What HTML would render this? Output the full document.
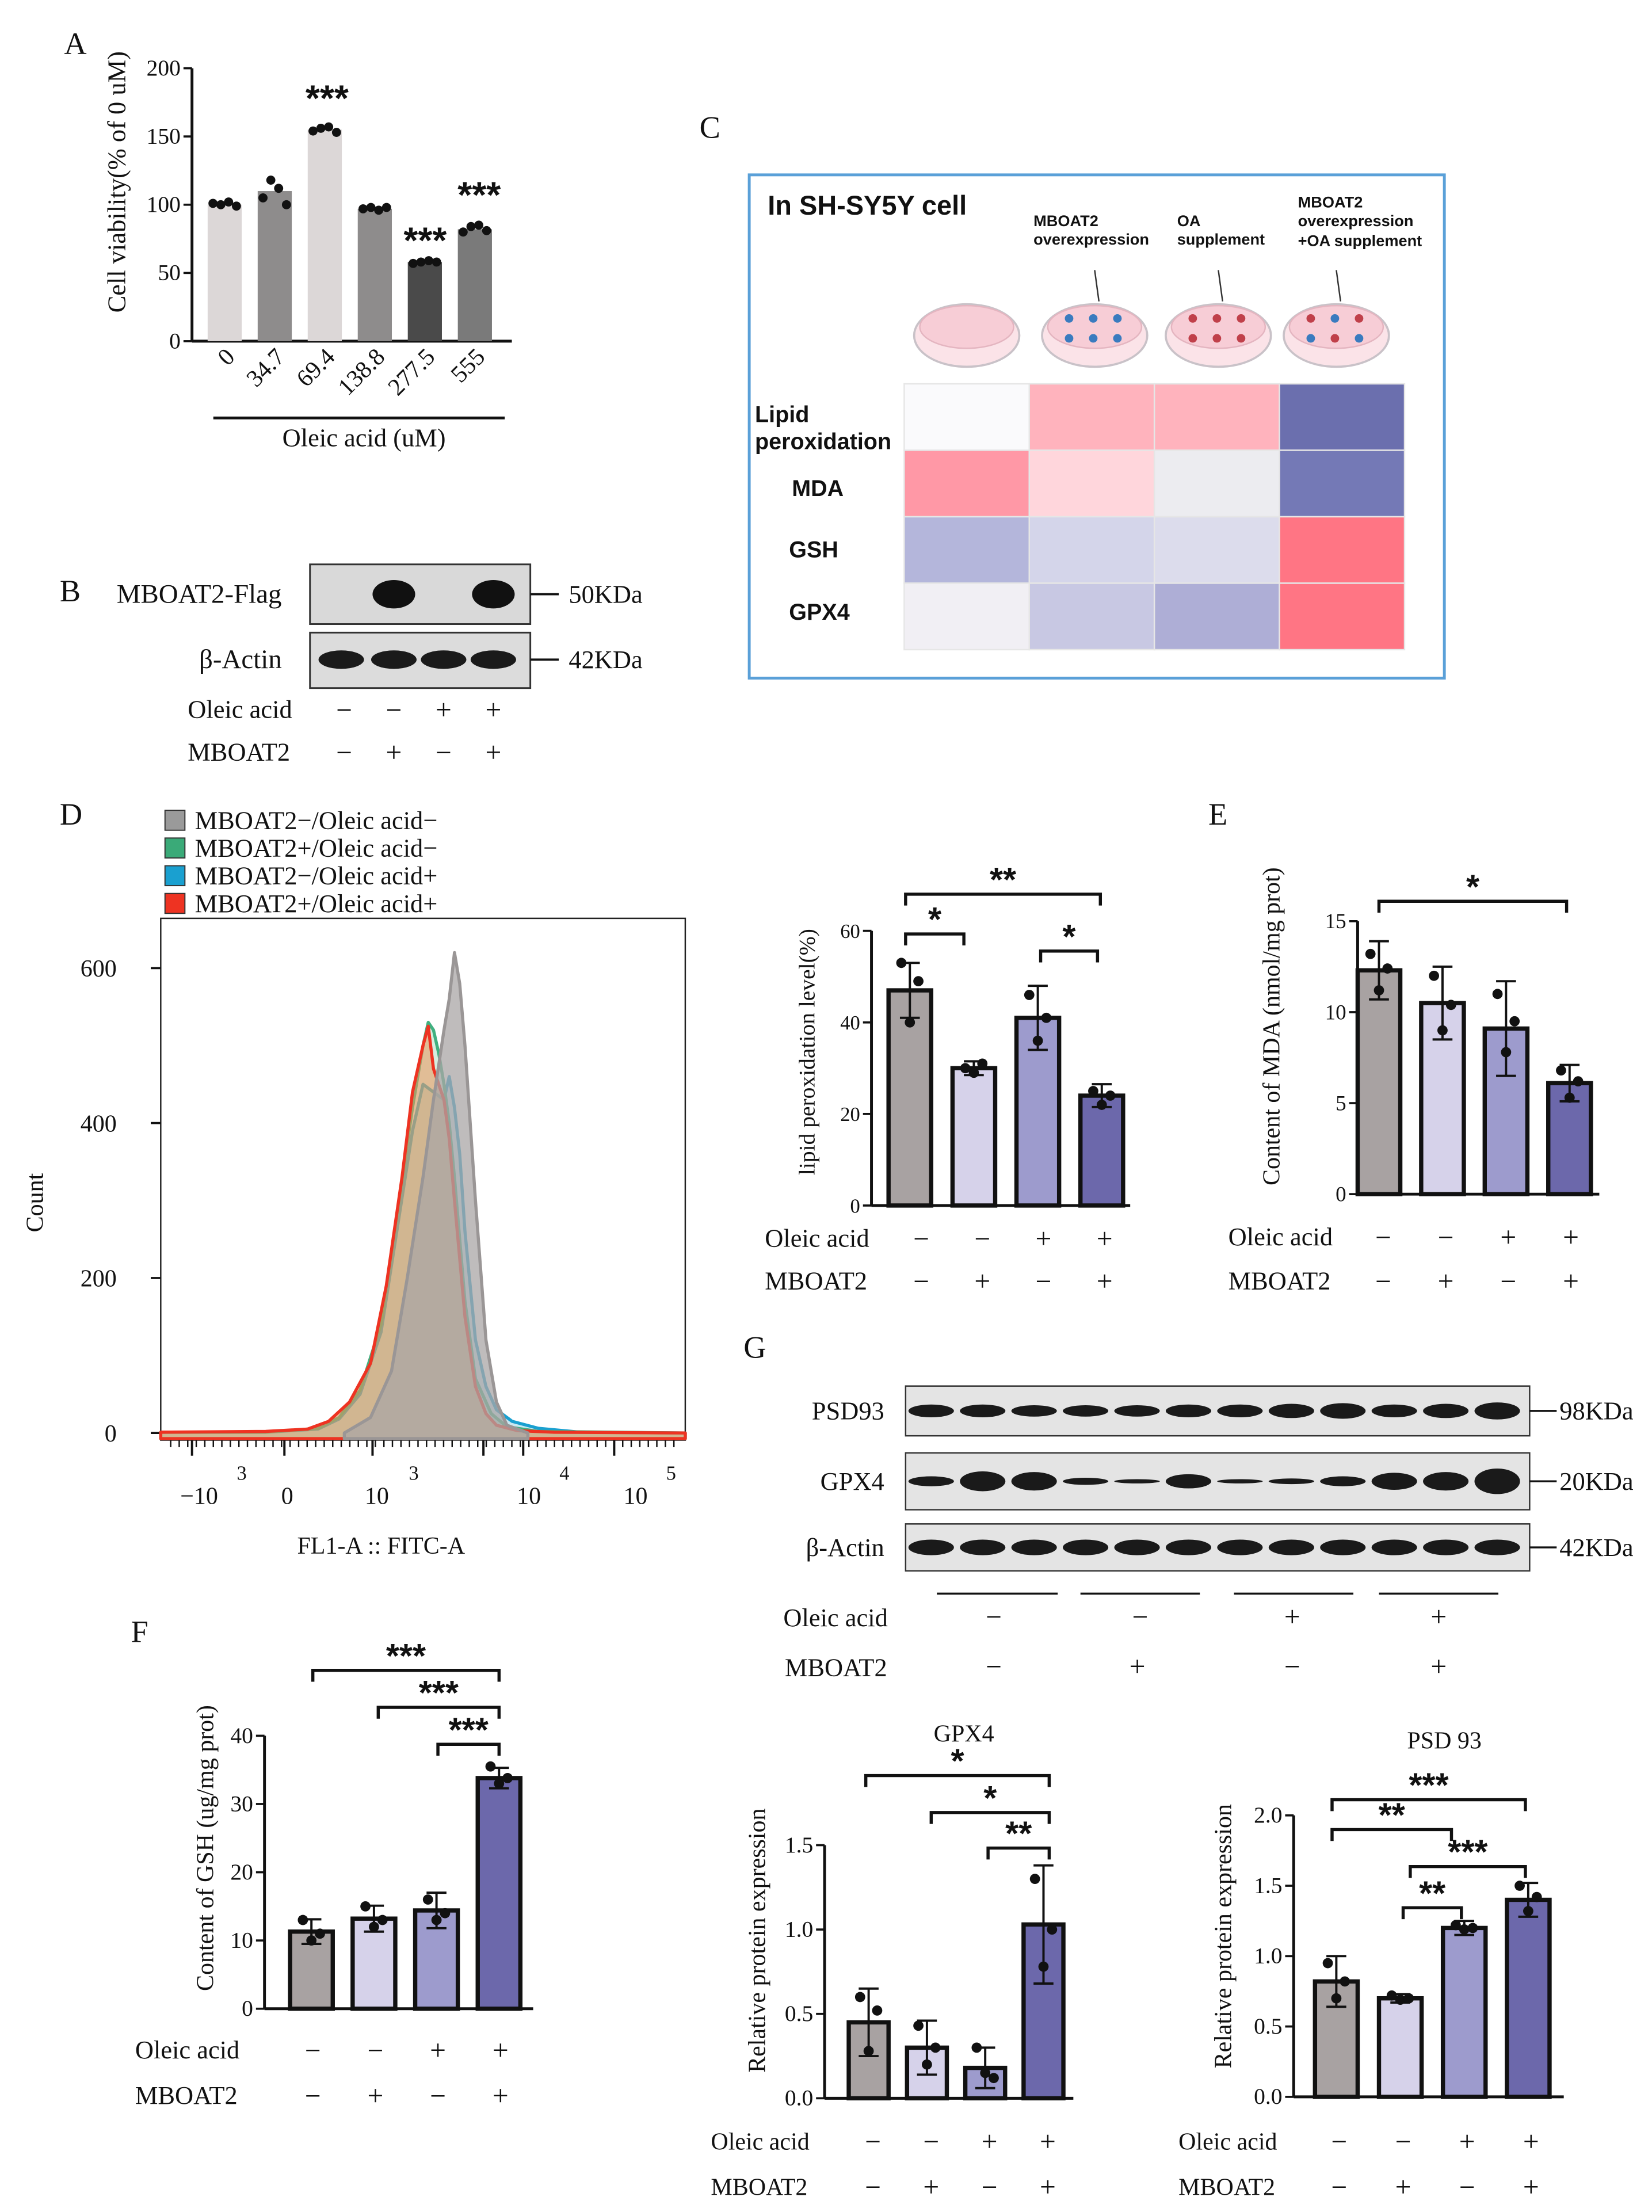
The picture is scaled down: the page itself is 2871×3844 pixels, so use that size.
<!DOCTYPE html>
<html><head><meta charset="utf-8">
<style>
html,body{margin:0;padding:0;background:#fff;}
svg{display:block;}
text{font-family:"Liberation Serif",serif;fill:#111;}
.sans{font-family:"Liberation Sans",sans-serif;font-weight:bold;}
</style></head>
<body>
<svg id="fig" width="2871" height="3844" viewBox="0 0 1162 1556" xmlns="http://www.w3.org/2000/svg"></svg>
<script>
// ---------- data ----------
const aCats = ["0","34.7","69.4","138.8","277.5","555"];
const aVals = [100,110,155,97,58,82];
const aDots = [[101,100,102,99],[105,118,112,100],[154,156,157,153],[97,98,96,98],[57,58,59,58],[80,84,85,81]];
const aTicks = [0,50,100,150,200];

const lipVals = [47,30,41,24];
const lipErr = [6,1.5,7,2.5];
const lipDots = [[53,40,49],[30,29,31],[46,36,41],[25,22,24]];
const lipTicks = [0,20,40,60];

const mdaVals = [12.3,10.5,9.1,6.1];
const mdaErr = [1.6,2,2.6,1];
const mdaDots = [[13.2,11.2,12.4],[12,9,10.4],[11,7.8,9.5],[6.8,5.3,6.2]];
const mdaTicks = [0,5,10,15];

const gshVals = [11.3,13.2,14.4,33.8];
const gshErr = [1.8,1.9,2.6,1.5];
const gshDots = [[13,10,11],[15,12,13],[16,13,14],[35.5,33,33.8]];
const gshTicks = [0,10,20,30,40];

const gpxVals = [0.45,0.3,0.18,1.03];
const gpxErr = [0.2,0.16,0.12,0.35];
const gpxDots = [[0.6,0.28,0.52],[0.43,0.2,0.3],[0.3,0.15,0.12],[1.3,0.78,1.0]];
const gpxTicks = [0,0.5,1.0,1.5];

const psdVals = [0.82,0.7,1.2,1.4];
const psdErr = [0.18,0.03,0.05,0.12];
const psdDots = [[0.95,0.7,0.82],[0.72,0.69,0.7],[1.22,1.19,1.2],[1.5,1.32,1.42]];
const psdTicks = [0,0.5,1.0,1.5,2.0];

const flowTicks = [0,200,400,600];
const chanGray = [35,40,44,47,50,52,54,55,56,57,58,60,62,64,66,70];
const cntGray  = [0,20,80,200,330,430,520,560,620,580,500,300,120,40,10,0];
const chanRed  = [0,20,28,32,36,40,43,46,48,50,51,52,54,55,56,58,60,62,64,68,75,100];
const cntRed   = [1,2,5,15,40,90,190,330,440,500,525,470,430,380,300,150,60,25,10,3,1,0];
const chanGreen= [0,20,30,34,38,42,45,48,50,51,52,53,54,55,56,58,60,63,66,72,100];
const cntGreen = [1,1,6,20,55,140,280,420,500,530,520,490,450,400,330,170,70,25,8,2,0];
const chanBlue = [0,20,30,34,38,42,45,48,50,52,54,55,56,57,58,60,62,64,67,72,80,100];
const cntBlue  = [1,1,5,18,50,130,260,390,450,440,430,460,420,360,260,120,60,30,15,6,1,0];

const heatColors = [["#fafafc","#ffb3bd","#ffb3bd","#6b6fae"],["#ff98a6","#ffd6dc","#ececf0","#7479b6"],["#b4b6db","#d4d5ea","#dcdcec","#ff7584"],["#f1eff4","#c8c8e3","#aeaed6","#ff7584"]];

const svg = document.getElementById('fig');
const NS = "http://www.w3.org/2000/svg";
function mk(tag, attrs, parent){const e=document.createElementNS(NS,tag);for(const k in attrs)e.setAttribute(k,attrs[k]);(parent||svg).appendChild(e);return e;}
function txt(x,y,s,size,anchor,parent,cls){const t=mk('text',{x:x,y:y,'font-size':size,'text-anchor':anchor||'start'},parent);if(cls)t.setAttribute('class',cls);t.textContent=s;return t;}
function grp(name){const g=mk('g',{});return g;}

[["A",45,38],["B",42,423],["C",492,97],["D",42,580],["E",850,580],["F",92,1155],["G",523,955]].forEach(p=>{
  const t=txt(p[1],p[2],p[0],22,'start');
  
  
});

function barChart(name,o,vals,errs,dots,ticks){
  const g=grp(name);
  const Y=v=>o.y0-v*o.k;
  const top=Y(ticks[ticks.length-1]);
  mk('line',{x1:o.ax,y1:top,x2:o.ax,y2:o.y0,stroke:'#111','stroke-width':2},g);
  mk('line',{x1:o.ax,y1:o.y0,x2:o.xend,y2:o.y0,stroke:'#111','stroke-width':2},g);
  ticks.forEach(t=>{
    mk('line',{x1:o.ax-6,y1:Y(t),x2:o.ax,y2:Y(t),stroke:'#111','stroke-width':1.5},g);
    const lab=txt(o.ax-8,Y(t)+5,o.fmt?o.fmt(t):String(t),o.fs||15,'end',g);
    
    
  });
  vals.forEach((v,i)=>{
    const cx=o.c0+i*o.step;
    const b=mk('rect',{x:cx-o.w/2,y:Y(v),width:o.w,height:o.y0-Y(v),fill:o.colors[i],stroke:o.noStroke?'none':'#111','stroke-width':o.noStroke?0:3},g);
    
    
    if(errs){
      const e=errs[i];
      mk('line',{x1:cx,y1:Y(v+e),x2:cx,y2:Y(v-e),stroke:'#111','stroke-width':1.6},g);
      mk('line',{x1:cx-7,y1:Y(v+e),x2:cx+7,y2:Y(v+e),stroke:'#111','stroke-width':1.6},g);
      mk('line',{x1:cx-7,y1:Y(v-e),x2:cx+7,y2:Y(v-e),stroke:'#111','stroke-width':1.6},g);
    }
    const n=dots[i].length;
    dots[i].forEach((d,j)=>{
      const dx=(j-(n-1)/2)*(o.dsp||6);
      const c=mk('circle',{cx:cx+dx,cy:Y(d),r:o.dr||3.6,fill:'#111'},g);
      
      
    });
  });
  if(o.ylab){
    const yl=txt(0,0,o.ylab,o.yfs||17,'middle',g);
    yl.setAttribute('transform',`translate(${o.ylx},${o.yly}) rotate(-90)`);
    
    
  }
  return g;
}
function signs(name,x0,step,y1,y2,lab1,lab2,labx,fs){
  const g=grp(name);
  const s1=['−','−','+','+'],s2=['−','+','−','+'];
  const l1=txt(labx,y1+6,lab1,fs||17,'start',g);
  const l2=txt(labx,y2+6,lab2,fs||17,'start',g);
  for(let i=0;i<4;i++){txt(x0+i*step,y1+7,s1[i],20,'middle',g);txt(x0+i*step,y2+7,s2[i],20,'middle',g);}
}
function bracket(g,x1,x2,y,stars,fs){
  mk('path',{d:`M${x1},${y+8} V${y} H${x2} V${y+8}`,fill:'none',stroke:'#111','stroke-width':2.2},g);
  const t=txt((x1+x2)/2,y-2,stars,fs||24,'middle',g,'sans');
  
  
}

// Panel A
(function(){
  const g=barChart('panel-a-cell-viability',{ax:135,y0:240,k:0.96,xend:360,c0:158,step:35.2,w:24,noStroke:true,
    colors:['#dcd7d7','#8e8c8c','#dcd7d7','#8e8c8c','#4a4a4a','#7a7a7a'],dsp:5.5,dr:3.2,fs:16,
    ylab:'Cell viability(% of 0 uM)',ylx:88,yly:128,yfs:18},aVals,null,aDots,aTicks);
  aCats.forEach((c,i)=>{
    const t=txt(0,0,c,17,'end',g);
    t.setAttribute('transform',`translate(${166+i*35.2},${252}) rotate(-45)`);
    
    
  });
  mk('line',{x1:150,y1:294,x2:355,y2:294,stroke:'#111','stroke-width':2},g);
  const xl=txt(256,314,'Oleic acid (uM)',18,'middle',g);
  
  txt(230,78,'***',26,'middle',g,'sans');
  txt(299,178,'***',26,'middle',g,'sans');
  txt(337,146,'***',26,'middle',g,'sans');
})();

// Panel B
(function(){
  const g=grp('panel-b-western-blot');
  mk('rect',{x:218,y:397,width:155,height:42,fill:'#d9d9d9',stroke:'#333','stroke-width':1.2},g);
  mk('rect',{x:218,y:445,width:155,height:39,fill:'#dcdcdc',stroke:'#333','stroke-width':1.2},g);
  [277,347].forEach(x=>mk('ellipse',{cx:x,cy:418,rx:15,ry:10,fill:'#111'},g));
  [240,277,312,347].forEach(x=>mk('ellipse',{cx:x,cy:464,rx:16,ry:6.5,fill:'#1a1a1a'},g));
  txt(82,424,'MBOAT2-Flag',19,'start',g);
  txt(140,470,'β-Actin',19,'start',g);
  mk('line',{x1:373,y1:418,x2:393,y2:418,stroke:'#111','stroke-width':1.5},g);
  mk('line',{x1:373,y1:464,x2:393,y2:464,stroke:'#111','stroke-width':1.5},g);
  txt(400,424,'50KDa',18,'start',g);
  txt(400,470,'42KDa',18,'start',g);
})();
signs('panel-b-conditions',242,35,499,529,'Oleic acid','MBOAT2',132,18);

// Panel C
(function(){
  const g=grp('panel-c-heatmap');
  mk('rect',{x:527,y:123,width:489,height:354,fill:'#fff',stroke:'#5aa0d8','stroke-width':2},g);
  txt(540,151,'In SH-SY5Y  cell',19,'start',g,'sans');
  txt(727,159,'MBOAT2',11,'start',g,'sans');txt(727,172,'overexpression',11,'start',g,'sans');
  txt(828,159,'OA',11,'start',g,'sans');txt(828,172,'supplement',11,'start',g,'sans');
  txt(913,146,'MBOAT2',11,'start',g,'sans');txt(913,159,'overexpression',11,'start',g,'sans');txt(913,173,'+OA supplement',11,'start',g,'sans');
  [680,770,857,940].forEach((x,i)=>{
    mk('ellipse',{cx:x,cy:236,rx:37,ry:22,fill:'#fbe3e8',stroke:'#c9c2c8','stroke-width':1.5},g);
    mk('ellipse',{cx:x,cy:230,rx:33,ry:15,fill:'#f7cdd6',stroke:'#e4b5c0','stroke-width':1},g);
    if(i>0){for(let j=0;j<6;j++){mk('circle',{cx:x-18+(j%3)*17,cy:224+Math.floor(j/3)*14,r:3,fill:i===1?'#3a7bbf':(i===2?'#c0404a':(j%2?'#3a7bbf':'#c0404a'))},g);}
      mk('line',{x1:x,y1:190,x2:x+3,y2:212,stroke:'#333','stroke-width':1},g);}
  });
  const cw=88,rh=46.75;
  heatColors.forEach((row,r)=>row.forEach((c,k)=>{
    const cell=mk('rect',{x:636+k*cw,y:270+r*rh,width:cw,height:rh,fill:c,stroke:'#e6e6e6','stroke-width':1},g);
    
    
  }));
  txt(531,297,'Lipid',16,'start',g,'sans');txt(531,316,'peroxidation',16,'start',g,'sans');
  txt(557,349,'MDA',16,'start',g,'sans');
  txt(555,392,'GSH',16,'start',g,'sans');
  txt(555,436,'GPX4',16,'start',g,'sans');
})();

// Panel D
(function(){
  const g=grp('panel-d-flow-histogram');
  const X=c=>113+c*3.69, Y=n=>1008-n*0.545;
  mk('rect',{x:113,y:646,width:369,height:367,fill:'#fff',stroke:'#222','stroke-width':1},g);
  flowTicks.forEach(t=>{mk('line',{x1:106,y1:Y(t),x2:113,y2:Y(t),stroke:'#111','stroke-width':1.5},g);txt(82,Y(t)+6,String(t),17,'end',g);});
  const yt=txt(0,0,'Count',17,'middle',g);yt.setAttribute('transform','translate(30,846) rotate(-90)');
  
  function curve(ch,cn,stroke,fill,name){
    let d=`M${X(ch[0])},${Y(cn[0])}`;for(let i=1;i<ch.length;i++)d+=` L${X(ch[i])},${Y(cn[i])}`;
    const p=mk('path',{d:d+(fill!=='none'?` L${X(ch[ch.length-1])},1012 L${X(ch[0])},1012 Z`:''),fill:fill,stroke:stroke,'stroke-width':2.2,'stroke-linejoin':'round'},g);
    
  }
  curve(chanBlue,cntBlue,'#1aa0d0','rgba(80,180,210,0.3)','series-mboat2-neg-oa-pos');
  curve(chanGreen,cntGreen,'#40b080','rgba(120,200,150,0.3)','series-mboat2-pos-oa-neg');
  curve(chanRed,cntRed,'#ee3322','rgba(235,150,90,0.55)','series-mboat2-pos-oa-pos');
  curve(chanGray,cntGray,'#9a9696','rgba(170,165,165,0.75)','series-mboat2-neg-oa-neg');
  for(let x=120;x<480;x+=6){mk('line',{x1:x,y1:1013,x2:x,y2:1018,stroke:'#111','stroke-width':1},g);}
  [135,200,262,340,368,432].forEach(x=>mk('line',{x1:x,y1:1013,x2:x,y2:1024,stroke:'#111','stroke-width':1.6},g));
  txt(140,1058,'−10',17,'middle',g);txt(170,1041,'3',14,'middle',g);
  txt(202,1058,'0',17,'middle',g);
  txt(265,1058,'10',17,'middle',g);txt(291,1041,'3',14,'middle',g);
  txt(372,1058,'10',17,'middle',g);txt(397,1041,'4',14,'middle',g);
  txt(447,1058,'10',17,'middle',g);txt(472,1041,'5',14,'middle',g);
  const xt=txt(268,1093,'FL1-A :: FITC-A',17,'middle',g);
  
  const leg=[['#9a9a9a','MBOAT2−/Oleic acid−'],['#3aaa78','MBOAT2+/Oleic acid−'],['#1aa0d0','MBOAT2−/Oleic acid+'],['#ee3322','MBOAT2+/Oleic acid+']];
  leg.forEach((l,i)=>{
    const r=mk('rect',{x:116,y:570+i*19.5,width:14,height:14,fill:l[0],stroke:'#333','stroke-width':0.8},g);
    
    const t=txt(137,583+i*19.5,l[1],18,'start',g);
    
  });
})();

const purp=['#a8a2a2','#d6d2ea','#9d9bcd','#6c68ab'];

(function(){
  const g=barChart('panel-d-lipid-peroxidation',{ax:613,y0:848,k:3.22,xend:795,c0:640,step:45,w:30,colors:purp,
    ylab:'lipid peroxidation level(%)',ylx:573,yly:740,fs:14,yfs:16},lipVals,lipErr,lipDots,lipTicks);
  bracket(g,637,678,657,'*');bracket(g,732,772,669,'*');bracket(g,637,774,629,'**');
})();
signs('lipid-conditions',648,43,871,901,'Oleic acid','MBOAT2',538,18);

(function(){
  const g=barChart('panel-e-mda',{ax:955,y0:840,k:12.8,xend:1125,c0:970,step:44.7,w:30,colors:purp,
    ylab:'Content of MDA (nmol/mg prot)',ylx:900,yly:722,fs:15,yfs:17},mdaVals,mdaErr,mdaDots,mdaTicks);
  bracket(g,970,1102,634,'*');
})();
signs('mda-conditions',973,44,870,901,'Oleic acid','MBOAT2',864,18);

(function(){
  const g=barChart('panel-f-gsh',{ax:186,y0:1413,k:4.8,xend:375,c0:219,step:44,w:30,colors:purp,
    ylab:'Content of GSH (ug/mg prot)',ylx:150,yly:1300,fs:16,yfs:17},gshVals,gshErr,gshDots,gshTicks);
  bracket(g,220,351,1175,'***');bracket(g,266,351,1201,'***');bracket(g,308,351,1227,'***');
})();
signs('gsh-conditions',220,44,1442,1474,'Oleic acid','MBOAT2',95,18);

(function(){
  const g=grp('panel-g-western-blot');
  const rows=[[975,35,'PSD93','98KDa',[7,7,6,6,6,7,7,8,9,7,8,10]],[1022,40,'GPX4','20KDa',[5,12,11,3,1,8,1,2,5,10,11,16]],[1072,33,'β-Actin','42KDa',[9,9,9,9,9,9,9,9,9,9,9,9]]];
  rows.forEach(r=>{
    mk('rect',{x:637,y:r[0],width:439,height:r[1],fill:'#e4e4e4',stroke:'#333','stroke-width':1},g);
    r[4].forEach((h,i)=>mk('ellipse',{cx:655+i*36.2,cy:r[0]+r[1]/2,rx:16,ry:h/2+1,fill:'#1a1a1a'},g));
    txt(622,r[0]+r[1]/2+6,r[2],18,'end',g);
    mk('line',{x1:1076,y1:r[0]+r[1]/2,x2:1095,y2:r[0]+r[1]/2,stroke:'#111','stroke-width':1.4},g);
    txt(1097,r[0]+r[1]/2+6,r[3],18,'start',g);
  });
  [[659,744],[760,844],[868,952],[970,1054]].forEach(s=>mk('line',{x1:s[0],y1:1121,x2:s[1],y2:1121,stroke:'#111','stroke-width':1.4},g));
  txt(551,1144,'Oleic acid',18,'start',g);txt(552,1179,'MBOAT2',18,'start',g);
  ['−','−','+','+'].forEach((s,i)=>txt([699,802,909,1012][i],1144,s,20,'middle',g));
  ['−','+','−','+'].forEach((s,i)=>txt([699,800,909,1012][i],1179,s,20,'middle',g));
})();

(function(){
  const g=barChart('panel-g-gpx4-quant',{ax:580,y0:1476,k:118.7,xend:755,c0:611,step:41,w:28,colors:purp,fmt:t=>t.toFixed(1),
    ylab:'Relative protein expression',ylx:538,yly:1365,fs:16,yfs:17},gpxVals,gpxErr,gpxDots,gpxTicks);
  txt(678,1225,'GPX4',17,'middle',g);
  bracket(g,609,738,1249,'*');bracket(g,655,738,1275,'*');bracket(g,695,738,1300,'**');
})();
signs('gpx4-conditions',614,41,1506,1538,'Oleic acid','MBOAT2',500,17);

(function(){
  const g=barChart('panel-g-psd93-quant',{ax:910,y0:1475,k:99,xend:1100,c0:940,step:45,w:30,colors:purp,fmt:t=>t.toFixed(1),
    ylab:'Relative protein expression',ylx:866,yly:1362,fs:16,yfs:17},psdVals,psdErr,psdDots,psdTicks);
  txt(1016,1230,'PSD 93',17,'middle',g);
  bracket(g,937,1073,1266,'***');bracket(g,937,1021,1287,'**');bracket(g,992,1073,1313,'***');bracket(g,987,1028,1342,'**');
})();
signs('psd93-conditions',942,45,1506,1538,'Oleic acid','MBOAT2',829,17);
</script>
</body></html>
